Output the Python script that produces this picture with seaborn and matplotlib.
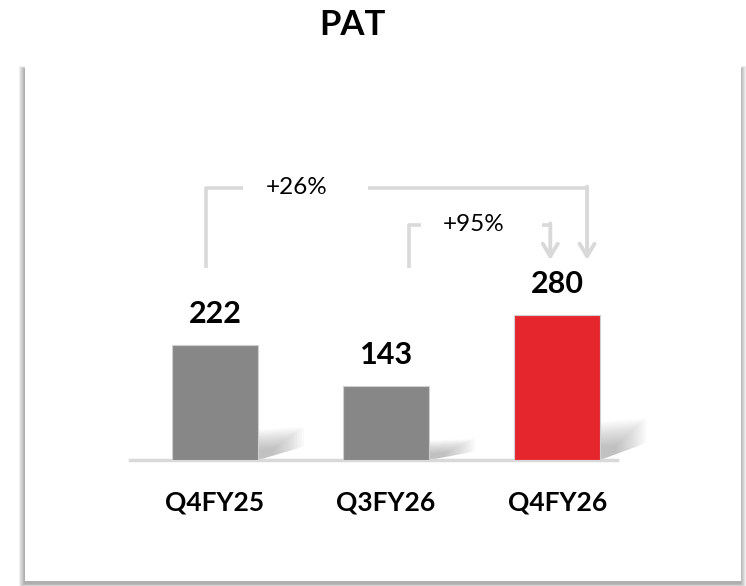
import matplotlib
matplotlib.use("Agg")
import matplotlib.pyplot as plt
from matplotlib.patches import Rectangle, Polygon
import pandas as pd
import seaborn as sns

quarters = ["Q4FY25", "Q3FY26", "Q4FY26"]
pat = [222, 143, 280]
bar_colors = ["#878787", "#878787", "#e5262d"]
growth_labels = ["+26%", "+95%"]
growth_from = [0, 1]   # bracket starts over this bar, ends at the last bar

sns.set_theme(style="white")
plt.rcParams["font.family"] = ["Lato", "DejaVu Sans"]

W, H = 746, 586
fig = plt.figure(figsize=(W / 100, H / 100), dpi=100)

# card background with drop shadow (pixel coords -> figure fraction)
def px_rect(x0, y0, x1, y1, **kw):
    return Rectangle((x0 / W, 1 - y1 / H), (x1 - x0) / W, (y1 - y0) / H,
                     transform=fig.transFigure, **kw)

for k in range(6):
    fig.patches.append(px_rect(25 - 6 + k, 66 + k * 0.5, 741 + 5 - k, 587 - k * 0.6,
                               facecolor="#000000", alpha=0.06, lw=0, zorder=-10))
fig.patches.append(px_rect(25, 63, 741, 581, facecolor="white", lw=0, zorder=-5))

fig.text(352 / W, 1 - 25 / H, "PAT", ha="center", va="center",
         fontsize=25, fontweight="bold", color="black")

ax = fig.add_axes([130 / W, 1 - 460 / H, 487 / W, 300 / H])
ax.patch.set_alpha(0)

df = pd.DataFrame({"quarter": quarters, "pat": pat})
sns.barplot(data=df, x="quarter", y="pat", hue="quarter", palette=bar_colors,
            saturation=1, width=0.5, legend=False, ax=ax, zorder=3,
            edgecolor="#d0d0d0", linewidth=0.8)

ax.set_xlim(-0.497, 2.35)
ax.set_ylim(0, 579)

# soft blurred shadows to the right of each bar
for i, v in enumerate(pat):
    sh = 0.26 * v
    for k in range(14):
        s = 0.35 + k * 0.05
        x1 = i + 0.25 + 0.27 * s
        poly = Polygon([(i + 0.25, 0), (i + 0.25, sh * s),
                        (x1, sh * s * 1.1), (x1, sh * 0.45 * s)],
                       closed=True, facecolor="#707070", alpha=0.035, lw=0, zorder=2,
                       clip_on=False)
        ax.add_patch(poly)

for i, v in enumerate(pat):
    ax.annotate(str(v), (i, v), xytext=(0, 16), textcoords="offset points",
                ha="center", va="baseline", fontsize=22, fontweight="bold", color="black")

# growth brackets
line_kw = dict(color="#d9d9d9", lw=2.6, solid_capstyle="butt", zorder=1, clip_on=False)
bracket_top = [525, 454]
bracket_base = 371
arrow_tip = 386
arrow_x = [2 + 0.175, 2 - 0.04]
text_x = [0.48, 1.51]
gap = [(0.165, 0.895), (1.205, 1.91)]
start_dx = [-0.05, 0.134]
for j, lab in enumerate(growth_labels):
    x0 = growth_from[j] + start_dx[j]
    y = bracket_top[j]
    ax.plot([x0, x0, gap[j][0]], [bracket_base, y, y], **line_kw)
    ax.plot([gap[j][1], arrow_x[j]], [y, y], **line_kw)
    ax.annotate("", xy=(arrow_x[j], arrow_tip), xytext=(arrow_x[j], y + 2.6),
                arrowprops=dict(arrowstyle="->,head_length=0.75,head_width=0.45",
                                color="#d9d9d9", lw=2.8, shrinkA=0, shrinkB=0),
                annotation_clip=False)
    ax.text(text_x[j], y, lab, ha="center", va="center", fontsize=17.5, color="black")

for s in ["top", "left", "right"]:
    ax.spines[s].set_visible(False)
ax.spines["bottom"].set_color("#d9d9d9")
ax.spines["bottom"].set_linewidth(2.5)
ax.set_yticks([])
ax.set_xlabel("")
ax.set_ylabel("")
ax.tick_params(axis="x", length=0, pad=22)
for t in ax.get_xticklabels():
    t.set_fontsize(19)
    t.set_fontweight("bold")
    t.set_color("black")

fig.savefig("out.png", dpi=100)
